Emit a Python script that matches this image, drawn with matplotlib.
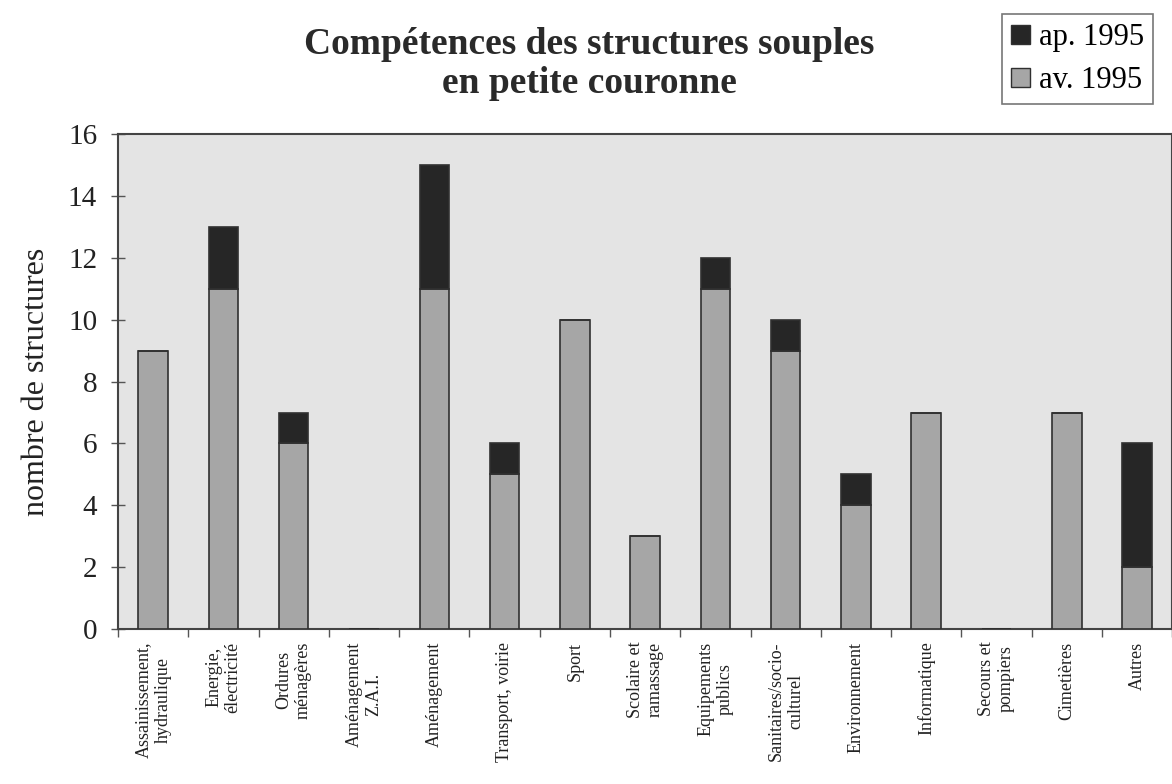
import matplotlib
matplotlib.use("Agg")
import matplotlib.pyplot as plt
import numpy as np
from matplotlib.patches import Patch

categories = ["Assainissement,\nhydraulique", "Energie,\nélectricité", "Ordures\nménagères",
              "Aménagement\nZ.A.I.", "Aménagement", "Transport, voirie", "Sport",
              "Scolaire et\nramassage", "Equipements\npublics", "Sanitaires/socio-\nculturel",
              "Environnement", "Informatique", "Secours et\npompiers", "Cimetières", "Autres"]
av_1995 = [9, 11, 6, 0, 11, 5, 10, 3, 11, 9, 4, 7, 0, 7, 2]
ap_1995 = [0, 2, 1, 0, 4, 1, 0, 0, 1, 1, 1, 0, 0, 0, 4]
yticks = [0, 2, 4, 6, 8, 10, 12, 14, 16]

plt.rcParams['font.family'] = ['Liberation Serif', 'DejaVu Serif']

fig = plt.figure(figsize=(11.72, 7.84), dpi=100)
fig.patch.set_facecolor('white')
ax = fig.add_axes([0.1007, 0.1977, 0.8995, 0.631])
ax.set_facecolor('#e4e4e4')

x = np.arange(len(categories))
w = 0.42
av_col = '#a6a6a6'
ap_col = '#262626'
edge = '#303030'
ax.bar(x, av_1995, width=w, color=av_col, edgecolor=edge, linewidth=1.2, zorder=3)
ax.bar(x, ap_1995, width=w, bottom=av_1995, color=ap_col, edgecolor=edge, linewidth=1.2, zorder=3)

ax.set_xlim(-0.5, len(categories) - 0.5)
ax.set_ylim(0, 16)
ax.set_yticks(yticks)
ax.set_yticklabels([str(v) for v in yticks], fontsize=21, color='#222222')
ax.tick_params(axis='y', direction='inout', length=10, width=1, colors='#555555', labelcolor='#222222', pad=10)

ax.set_xticks(x)
ax.set_xticklabels(categories, rotation=90, fontsize=13, color='#222222', ha='center', va='top',
                   multialignment='center', linespacing=1.2)
ax.tick_params(axis='x', length=0, pad=9)
ax.set_xticks(np.arange(-0.5, len(categories)), minor=True)
ax.tick_params(axis='x', which='minor', direction='out', length=6, width=1, color='#555555')

for s in ax.spines.values():
    s.set_color('#444444')
    s.set_linewidth(1.5)

ax.set_ylabel('nombre de structures', fontsize=23, color='#222222', labelpad=12)

fig.text(0.5026, 0.918, 'Compétences des structures souples\nen petite couronne', ha='center', va='center',
         fontsize=27, fontweight='bold', color='#2a2a2a', linespacing=1.15)

handles = [Patch(facecolor=ap_col, edgecolor=edge, label='ap. 1995'),
           Patch(facecolor=av_col, edgecolor=edge, label='av. 1995')]
leg = fig.legend(handles=handles, loc='upper right', bbox_to_anchor=(0.984, 0.982), fontsize=22,
                 frameon=True, fancybox=False, edgecolor='#555555', handlelength=0.6, handleheight=0.6,
                 handletextpad=0.3, borderpad=0.3, labelspacing=0.45, borderaxespad=0)
leg.get_frame().set_linewidth(1.2)

fig.savefig('out.png', dpi=100)
